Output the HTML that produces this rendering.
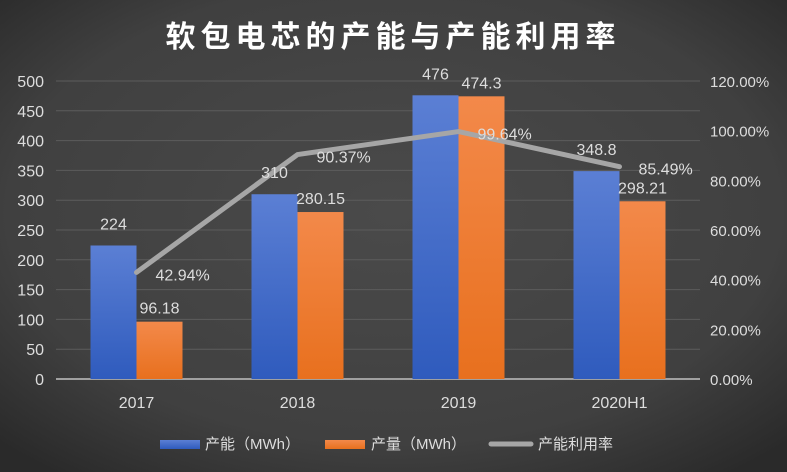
<!DOCTYPE html>
<html><head><meta charset="utf-8"><style>
body{margin:0;width:787px;height:472px;overflow:hidden;background:#3a3a3a;}
svg{display:block;font-family:"Liberation Sans","Noto Sans CJK SC",sans-serif;}
</style></head><body>
<svg id="c" width="787" height="472">
<defs>
<radialGradient id="bg" cx="50%" cy="45%" r="70%"><stop offset="0" stop-color="#4a4a4a"/><stop offset="0.7" stop-color="#404040"/><stop offset="1" stop-color="#2a2a2a"/></radialGradient>
<linearGradient id="gb" x1="0" y1="0" x2="0" y2="1"><stop offset="0" stop-color="#5b7fd4"/><stop offset="1" stop-color="#2f5bbd"/></linearGradient>
<linearGradient id="go" x1="0" y1="0" x2="0" y2="1"><stop offset="0" stop-color="#f3894a"/><stop offset="1" stop-color="#e8701e"/></linearGradient>
</defs>
<rect width="787" height="472" fill="url(#bg)"/>
<text x="393" y="47" text-anchor="middle" fill="#fff" font-size="30" font-weight="bold" letter-spacing="5">软包电芯的产能与产能利用率</text>
<g id="g"></g>
<g>
<rect x="160" y="440" width="40" height="9" fill="url(#gb)"/>
<text x="205" y="449" fill="#ddd" font-size="15">产能（MWh）</text>
<rect x="325" y="440" width="40" height="9" fill="url(#go)"/>
<text x="371" y="449" fill="#ddd" font-size="15">产量（MWh）</text>
<line x1="491" y1="444" x2="531" y2="444" stroke="#a6a6a6" stroke-width="5" stroke-linecap="round"/>
<text x="538" y="449" fill="#ddd" font-size="15">产能利用率</text>
</g>
</svg>
<script>
const categories=["2017","2018","2019","2020H1"];
const capacity=[224,310,476,348.8];
const output=[96.18,280.15,474.3,298.21];
const utilization=[42.94,90.37,99.64,85.49];
const leftTicks=[0,50,100,150,200,250,300,350,400,450,500];
const rightTicks=[0,20,40,60,80,100,120];
const NS="http://www.w3.org/2000/svg";
const g=document.getElementById('g');
const x0=56,x1=700,y0=379,y1=81;
const yL=v=>y0-(v/500)*(y0-y1);
const yR=v=>y0-(v/120)*(y0-y1);
const bw=(x1-x0)/categories.length;
const cx=i=>x0+bw*(i+0.5);
function mk(t,a){const e=document.createElementNS(NS,t);for(const k in a)e.setAttribute(k,a[k]);g.appendChild(e);return e;}
leftTicks.forEach(v=>{
 const l=mk('line',{x1:x0,x2:x1,y1:yL(v),y2:yL(v),stroke:v===0?'#a0a0a0':'#5c5c5c','stroke-width':v===0?2:1});
 
 
 const t=mk('text',{x:44,y:yL(v)+6,'text-anchor':'end',fill:'#ddd','font-size':16});
 t.textContent=v;
 
 
});
rightTicks.forEach(v=>{
 const t=mk('text',{x:710,y:yR(v)+6,fill:'#ddd','font-size':15});
 t.textContent=v.toFixed(2)+'%';
 
 
});
const barW=46;
categories.forEach((c,i)=>{
 const t=mk('text',{x:cx(i),y:408,'text-anchor':'middle',fill:'#ddd','font-size':16});
 t.textContent=c;
 
 
 const b=mk('rect',{x:cx(i)-barW,y:yL(capacity[i]),width:barW,height:y0-yL(capacity[i]),fill:'url(#gb)'});
 
 
 const o=mk('rect',{x:cx(i),y:yL(output[i]),width:barW,height:y0-yL(output[i]),fill:'url(#go)'});
 
 
});
const pts=utilization.map((v,i)=>[cx(i),yR(v)]);
const pl=mk('polyline',{points:pts.map(p=>p.join(',')).join(' '),fill:'none',stroke:'#a6a6a6','stroke-width':5,'stroke-linecap':'round','stroke-linejoin':'round'});


categories.forEach((c,i)=>{
 const a=mk('text',{x:cx(i)-barW/2,y:yL(capacity[i])-16,'text-anchor':'middle',fill:'#ddd','font-size':16});
 a.textContent=capacity[i];
 
 
 const b=mk('text',{x:cx(i)+barW/2,y:yL(output[i])-8,'text-anchor':'middle',fill:'#ddd','font-size':16});
 b.textContent=output[i];
 
 
 const u=mk('text',{x:pts[i][0]+19,y:pts[i][1]+8,fill:'#ddd','font-size':16});
 u.textContent=utilization[i].toFixed(2)+'%';
 
 
});
</script>
</body></html>
